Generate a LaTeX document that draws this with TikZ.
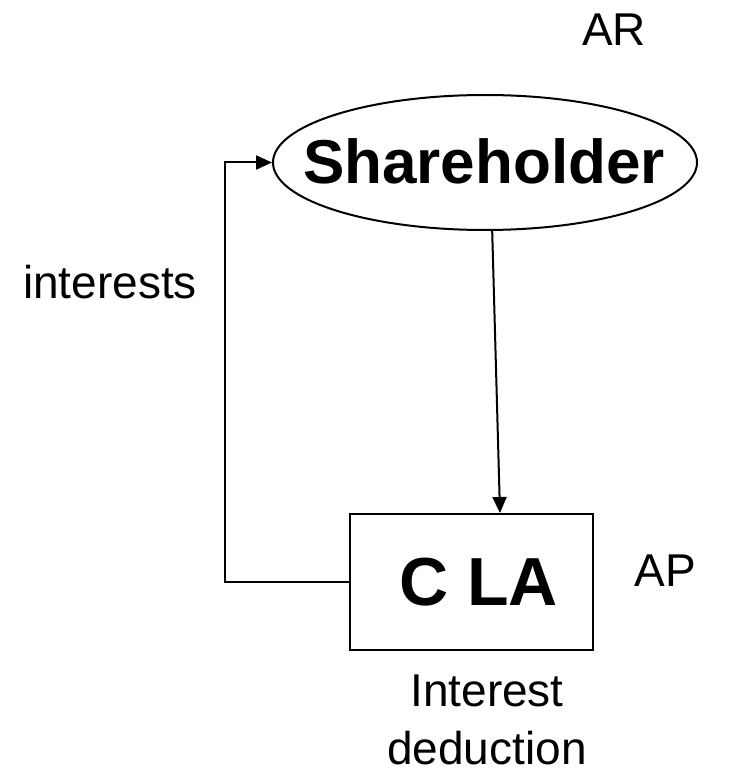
\documentclass[tikz,border=0pt]{standalone}
\usepackage{fontspec}
\setmainfont{Liberation Sans}
\usetikzlibrary{shapes.geometric,arrows.meta,calc}
\begin{document}
\begin{tikzpicture}[x=1pt,y=-1pt,
  wire/.style={line width=2pt},
  tip/.style={-{Triangle[length=16pt,width=14pt]}},
  plain/.style={font=\fontsize{46}{58}\selectfont, inner sep=0pt, anchor=base},
  entity/.style={draw, line width=2pt, ellipse, inner sep=0pt,
    minimum width=424pt, minimum height=135pt},
  entitytext/.style={font=\fontsize{62}{70}\selectfont\bfseries, inner sep=0pt},
  company/.style={draw, line width=2pt, rectangle, inner sep=0pt,
    minimum width=243pt, minimum height=136pt},
  companytext/.style={font=\fontsize{68}{76}\selectfont\bfseries, inner sep=0pt}
]
\useasboundingbox (0,0) rectangle (733,770);

% main parties
\node[entity] (sh) at (485,162.5) {};
\node[entitytext] (shtext) at (484,161) {Shareholder};
\node[company] (cla) at (471.5,582) {};
\node[companytext] (clatext) at (478.5,582) {C LA};

% side labels
\node[plain] (ar) at (614,46) {AR};
\node[plain] (ap) at (665,586) {AP};
\node[plain] (int) at (110,298) {interests};
\node[plain, align=center] (ded) at (487,764) {Interest\\deduction};

% flows
\coordinate (clain) at ($(cla.north)+(28.5,0)$);
\draw[wire, tip] (sh.-84) -- (clain);
\draw[wire, tip] (cla.west) -- ++(-124,0) |- (sh.west);
\end{tikzpicture}
\end{document}
